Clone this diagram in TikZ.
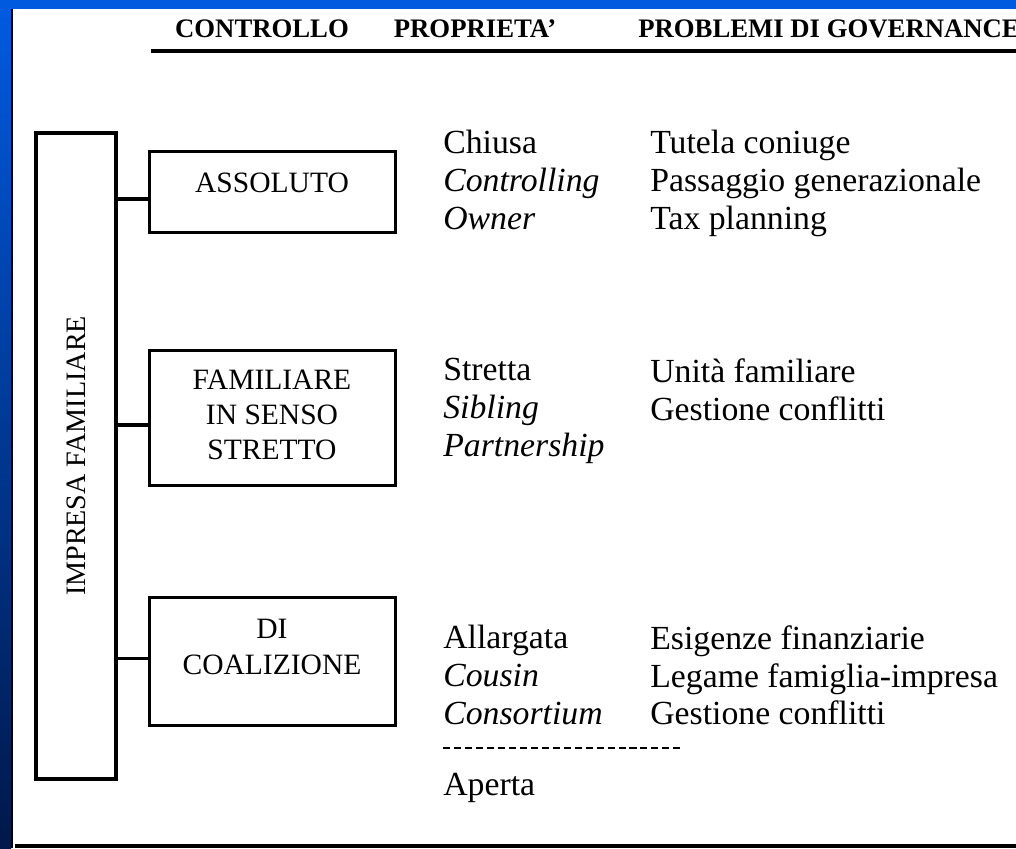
\documentclass[tikz,border=0pt]{standalone}
\usepackage{fontspec}
\setmainfont{Liberation Serif}
\usetikzlibrary{positioning}

\definecolor{frametop}{HTML}{005ADF}
\definecolor{framebottom}{HTML}{00184A}

\tikzset{
  ctlbox/.style={draw, line width=2.5pt, minimum width=6.15cm, inner sep=0pt},
  conn/.style={line width=2.5pt},
  headtext/.style={font=\fontsize{19}{23}\selectfont\bfseries, inner sep=0pt},
  boxtext/.style={font=\fontsize{21}{25}\selectfont, align=center, inner sep=0pt},
  coltext/.style={font=\fontsize{24}{27}\selectfont, align=left, anchor=north west, inner sep=0pt},
}

\begin{document}
\begin{tikzpicture}[x=0.025cm, y=-0.025cm]

  % Frame
  \useasboundingbox (0,0) rectangle (1016,848);
  \clip (0,0) rectangle (1016,848);
  \fill[white] (0,0) rectangle (1016,848);
  \fill[frametop] (0,0) rectangle (1016,9);
  \shade[top color=frametop, bottom color=framebottom] (0,9) rectangle (11,848);
  \draw[line width=0.8pt] (12,9) -- (12,848);

  % Headings
  \node[headtext] (controllo) at (262,29) {CONTROLLO};
  \node[headtext] (proprieta) at (475,29) {PROPRIETA'};
  \node[headtext, anchor=west] (problemi) at (638,29) {PROBLEMI DI GOVERNANCE};
  \draw[line width=2.4pt] (151,51) -- (1016,51);

  % Control boxes
  \node[ctlbox, minimum width=2cm, minimum height=16.15cm] (impresa) at (76,456) {};
  \node[rotate=90, font=\fontsize{20}{24}\selectfont, inner sep=0pt] (impresalbl) at (impresa.center) {IMPRESA FAMILIARE};

  \node[ctlbox, minimum height=2.025cm] (assoluto) at (272.5,192) {};
  \node[ctlbox, minimum height=3.375cm] (familiare) at (272.5,418) {};
  \node[ctlbox, minimum height=3.2cm] (coalizione) at (272.5,661.5) {};

  \node[boxtext] (assolutolbl) at (272,183) {ASSOLUTO};
  \node[boxtext] (familiarelbl) at (272,415) {FAMILIARE\\IN SENSO\\STRETTO};
  \node[boxtext] (coalizionelbl) at (272,647) {DI\\COALIZIONE};

  % Connectors
  \coordinate (c1) at ([yshift=-0.17cm]assoluto.west);
  \coordinate (c2) at ([yshift=-0.17cm]familiare.west);
  \coordinate (c3) at ([yshift=0.07cm]coalizione.west);
  \draw[conn] (c1) -- (c1 -| impresa.east);
  \draw[conn] (c2) -- (c2 -| impresa.east);
  \draw[conn] (c3) -- (c3 -| impresa.east);

  % Proprieta' + problemi
  \node[coltext] (prop1) at (443,130) {Chiusa\\\textit{Controlling}\\\textit{Owner}};
  \node[coltext] (gov1) at (650,130) {Tutela coniuge\\Passaggio generazionale\\Tax planning};
  \node[coltext] (prop2) at (443,358) {Stretta\\\textit{Sibling}\\\textit{Partnership}};
  \node[coltext] (gov2) at (650,358) {Unità familiare\\Gestione conflitti};
  \node[coltext] (prop3) at (443,625) {Allargata\\\textit{Cousin}\\\textit{Consortium}};
  \node[coltext] (gov3) at (650,625) {Esigenze finanziarie\\Legame famiglia-impresa\\Gestione conflitti};

  \draw[line width=1.4pt, dash pattern=on 5pt off 2.8pt] (443,748) -- (680,748);
  \node[coltext] (aperta) at (443,773) {Aperta};

  \draw[line width=2.4pt] (15,846) -- (1016,846);

\end{tikzpicture}
\end{document}
